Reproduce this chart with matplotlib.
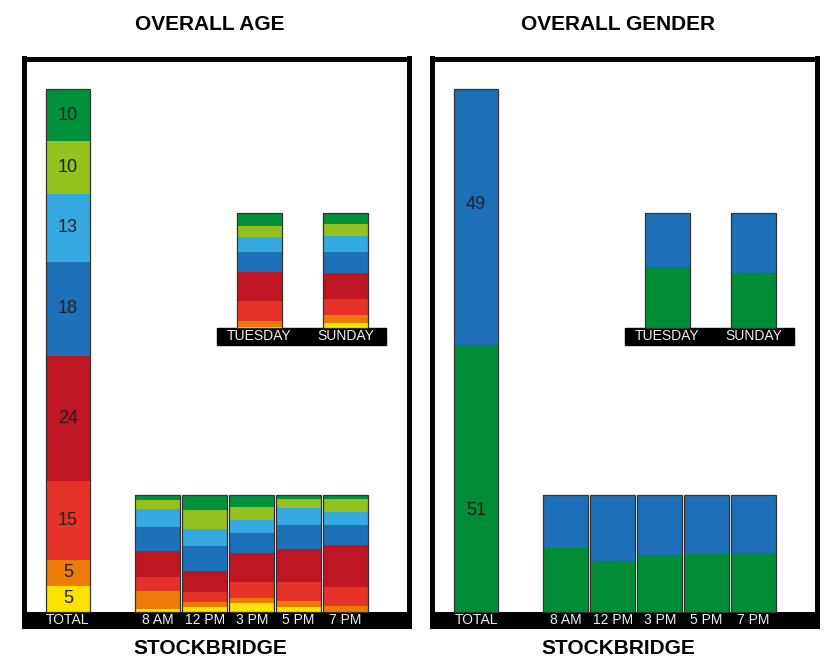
import numpy as np
import matplotlib.pyplot as plt
from matplotlib.patches import Rectangle

W, H = 825, 663

# age bands, bottom of the stack first
age_colors = ["#ffe100", "#ec7c05", "#e5332a", "#be1622",
              "#1d71b8", "#36a9e1", "#95c11f", "#00913a"]
age_total = [5, 5, 15, 24, 18, 13, 10, 10]

times = ["8 AM", "12 PM", "3 PM", "5 PM", "7 PM"]
age_8am = [2.3, 15.4, 12.0, 22.3, 20.6, 15.4, 7.7, 4.3]
age_12pm = [4.0, 4.3, 8.6, 18.0, 21.4, 14.6, 16.3, 12.8]
age_3pm = [7.4, 4.3, 13.7, 24.9, 17.1, 11.1, 11.1, 10.4]
age_5pm = [4.0, 5.1, 16.3, 28.3, 20.6, 14.6, 7.7, 3.4]
age_7pm = [0.0, 4.9, 16.3, 36.0, 17.1, 11.2, 11.1, 3.4]

days = ["TUESDAY", "SUNDAY"]
age_tue = [1.2, 5.2, 17.4, 25.2, 17.4, 13.0, 9.6, 11.0]
age_sun = [4.6, 7.0, 13.9, 22.6, 18.3, 13.9, 10.4, 9.3]

# gender: green first (bottom), then blue
gender_colors = ["#008d36", "#1d70b7"]
gender_total = [51, 49]
gender_time = [[54.6, 45.4], [43.4, 56.6], [48.6, 51.4], [49.7, 50.3], [50.3, 49.7]]
gender_day = [[53.3, 46.7], [47.5, 52.5]]

plt.rcParams["font.family"] = ["Liberation Sans", "DejaVu Sans"]
title_font = ["Liberation Sans Narrow", "Liberation Sans", "DejaVu Sans"]

fig = plt.figure(figsize=(W / 100, H / 100), dpi=100)


def px_axes(x0, y0, x1, y1, **kw):
    # box in pixels, origin top-left
    return fig.add_axes([x0 / W, 1 - y1 / H, (x1 - x0) / W, (y1 - y0) / H], **kw)


def stack(ax, xs, rows, colors, width, label_at=None):
    rows = np.array(rows, dtype=float)
    bottom = np.zeros(len(xs))
    for j, c in enumerate(colors):
        ax.bar(xs, rows[:, j], width, bottom=bottom, color=c, linewidth=0)
        if label_at is not None:
            for x, b, v in zip(xs, bottom, rows[:, j]):
                ax.text(x, b + v * label_at[j], f"{v:g}", ha="center", va="center",
                        fontsize=13, color="#222222")
        bottom += rows[:, j]
    ax.bar(xs, bottom, width, fill=False, edgecolor="#333333",
           linewidth=0.9, clip_on=False)


def plain(ax):
    ax.set_facecolor("none")
    for s in ax.spines.values():
        s.set_visible(False)
    ax.set_yticks([])
    ax.tick_params(axis="x", length=0, pad=0.5, labelsize=10,
                   labelcolor="#f0f0f0")


def panel(dx, title, colors, total, by_time, by_day, label_at):
    ppu = 5.23  # pixels per percent on the total bar
    ax = px_axes(24 + dx, 58.5, 409 + dx, 625.5)
    ax.set_xlim(0, 385 / 44)
    ax.set_ylim(-(625.5 - 612) / ppu, (612 - 58.5) / ppu)
    for s in ax.spines.values():
        s.set_linewidth(3.6)
        s.set_color("black")
    ax.set_xticks([])
    ax.set_yticks([])
    ax.axhspan(ax.get_ylim()[0], 0, color="black", lw=0)
    stack(ax, [1.0], [total], colors, 1.0, label_at=label_at)
    ax.text(1.0, -8 / ppu, "TOTAL", ha="center", va="center",
            fontsize=10, color="#f0f0f0")

    # time of day
    at = px_axes(134.5 + dx, 495, 369 + dx, 612, zorder=3)
    at.set_xlim(-0.5, 4.5)
    at.set_ylim(0, 100)
    stack(at, np.arange(len(times)), by_time, colors, 0.96)
    plain(at)
    at.set_xticks(np.arange(len(times)), times)

    # day of week
    ad = px_axes(216.5 + dx, 213, 386 + dx, 328, zorder=3)
    ad.set_xlim(-0.5, 1.47)
    ad.set_ylim(0, 100)
    ad.add_patch(Rectangle((0, -17 / 115), 1, 17 / 115, transform=ad.transAxes,
                           color="black", clip_on=False, zorder=1))
    stack(ad, np.arange(len(days)), by_day, colors, 0.52)
    plain(ad)
    ad.set_xticks(np.arange(len(days)), days)

    fig.text((210 + dx) / W, 1 - 24 / H, title, ha="center", va="center",
             fontsize=15, fontweight="bold", family=title_font)
    fig.text((210 + dx) / W, 1 - 649 / H, "STOCKBRIDGE", ha="center", va="center",
             fontsize=15, fontweight="bold", family=title_font)


panel(0, "OVERALL AGE", age_colors, age_total,
      [age_8am, age_12pm, age_3pm, age_5pm, age_7pm], [age_tue, age_sun],
      [0.5] * 8)
panel(408, "OVERALL GENDER", gender_colors, gender_total, gender_time, gender_day,
      [0.38, 0.55])

fig.savefig("out.png", dpi=100)
